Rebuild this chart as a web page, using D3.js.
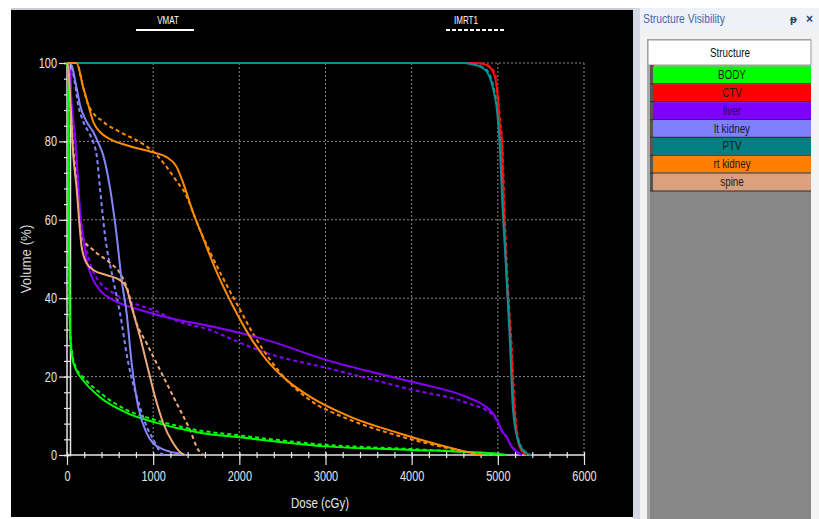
<!DOCTYPE html>
<html>
<head>
<meta charset="utf-8">
<script src="https://cdn.jsdelivr.net/npm/d3@7"></script>
<style>
  body { margin: 0; background: #fff; }
  svg { display: block; }
  text { font-family: "Liberation Sans", Arial, sans-serif; }
</style>
</head>
<body>
<div id="chart"></div>
<script>
// DVH comparison VMAT vs IMRT1

const structures = ["BODY", "CTV", "liver", "lt kidney", "PTV", "rt kidney", "spine"];
const structColors = ["#00ff00", "#ff0000", "#8000ff", "#8080ff", "#008080", "#ff8000", "#dba07e"];
const curveColors = ["#00ff00", "#ff1010", "#8a00ff", "#8585ff", "#009494", "#ff8c00", "#f0a878"];

const xTicks = [0, 1000, 2000, 3000, 4000, 5000, 6000];
const yTicks = [0, 20, 40, 60, 80, 100];

// [dose cGy, volume %]
const bodyVMAT = [[0,100],[15,97],[20,70],[25,50],[35,32],[60,25],[100,22],[190,19],[380,14.8],[700,10.7],[1040,8.2],[1540,5.7],[2000,4.5],[3000,2.2],[4000,1.3],[4600,0.8],[5000,0.3],[5100,0]];
const bodyIMRT = [[0,100],[15,97],[20,70],[25,50],[35,33],[60,26],[100,22.5],[200,19.6],[400,15.6],[700,11.4],[1000,9.1],[1500,6.4],[2000,5],[3000,2.6],[4000,1.5],[4600,0.8],[4900,0.2],[5000,0]];

const ctvVMAT = [[0,100],[4700,100],[4830,99.8],[4900,99],[4960,97],[5000,91],[5020,85],[5045,80],[5070,63],[5100,46],[5150,29],[5190,12],[5230,4],[5280,1],[5340,0]];
const ctvIMRT = [[0,100],[4720,100],[4840,99.8],[4910,99],[4970,97],[5005,91],[5028,85],[5052,80],[5078,63],[5110,46],[5158,29],[5198,12],[5238,4],[5290,1],[5350,0]];

const liverVMAT = [[0,100],[25,99],[55,89],[93,81],[160,60],[190,55],[235,49],[305,44.6],[383,42],[540,39.5],[850,37],[1276,34.5],[1543,33.4],[2320,29.3],[3016,24.2],[4014,18.6],[4640,14.8],[4850,12.5],[4942,10.7],[5000,8.5],[5050,6],[5104,4.6],[5150,2.5],[5220,0.8],[5280,0]];
const liverIMRT = [[0,100],[25,99],[55,89],[93,81],[160,60],[230,52],[300,47],[383,44],[537,41.3],[800,38.5],[1000,37],[1300,34],[1660,31.9],[2000,28.7],[2320,26],[3016,22.2],[4014,16.6],[4640,13.3],[4942,10.2],[5000,8.3],[5050,6],[5104,4.4],[5150,2.5],[5220,0.8],[5280,0]];

const ltKidneyVMAT = [[0,100],[35,100],[112,93.6],[151,89.3],[228,85],[305,82.4],[360,79.8],[420,76.5],[500,68],[576,56],[634,44.6],[692,36.2],[750,23.5],[827,12.2],[924,5.6],[1000,3],[1079,1.8],[1200,0.8],[1320,0.3],[1380,0]];
const ltKidneyIMRT = [[0,100],[35,100],[90,95],[130,89.3],[190,85],[260,82],[305,79.8],[344,76.5],[383,68],[441,56],[537,44.6],[615,36.2],[711,23.5],[847,12.2],[930,7],[1000,4],[1060,1.5],[1100,0.3],[1150,0]];

const ptvVMAT = [[0,100],[4600,100],[4700,99.7],[4800,99],[4880,97.5],[4950,93],[4990,88],[5020,80],[5055,63],[5100,46],[5140,29],[5175,12],[5230,4],[5300,1],[5380,0]];
const ptvIMRT = [[0,100],[4620,100],[4720,99.7],[4820,99],[4895,97.5],[4960,93],[5000,88],[5030,80],[5063,63],[5108,46],[5148,29],[5183,12],[5238,4],[5310,1],[5390,0]];

const rtKidneyVMAT = [[0,100],[110,100],[190,93.6],[247,89.3],[305,85],[383,82.4],[500,80.6],[692,79],[1000,77.2],[1156,76],[1272,73.5],[1350,69.3],[1466,61.7],[1543,57.4],[1750,46],[1930,37.8],[2123,30.2],[2317,24.2],[2549,19.1],[2819,14.9],[3283,9.8],[3863,5.5],[4250,3],[4637,0.8],[4800,0]];
const rtKidneyIMRT = [[0,100],[110,100],[190,93.6],[247,89.3],[420,85],[615,82.4],[847,79.8],[1000,77.4],[1156,73.5],[1290,69.3],[1349,67.6],[1543,57.4],[1790,46],[1990,37.8],[2180,30.2],[2360,24.2],[2550,19.1],[2819,14],[3283,9],[3863,4.8],[4250,2.6],[4637,0.8],[4850,0]];

const spineVMAT = [[0,100],[15,99],[40,90],[73,76.5],[112,68],[150,57.4],[170,53.1],[228,48.9],[305,47.2],[460,45.9],[615,44.6],[692,42.5],[750,37.8],[847,30.2],[924,23.4],[1021,14.9],[1117,8.1],[1233,3],[1300,1],[1360,0]];
const spineIMRT = [[0,100],[15,99],[40,90],[73,78],[112,70],[150,60],[170,55.7],[305,52.3],[500,49],[615,46.4],[692,42.9],[808,33.6],[924,28.5],[1079,21.7],[1272,13.2],[1427,6.4],[1523,1.3],[1580,0]];

const vmatSeries = [bodyVMAT, ctvVMAT, liverVMAT, ltKidneyVMAT, ptvVMAT, rtKidneyVMAT, spineVMAT];
const imrtSeries = [bodyIMRT, ctvIMRT, liverIMRT, ltKidneyIMRT, ptvIMRT, rtKidneyIMRT, spineIMRT];

const width = 819, height = 519;
const plot = {left: 67, right: 584, top: 63, bottom: 455};

const svg = d3.select("#chart")
  .append("svg")
  .attr("width", width)
  .attr("height", height);

// background pieces
svg.append("rect").attr("x", 0).attr("y", 0).attr("width", width).attr("height", height).attr("fill", "#fff");
svg.append("rect").attr("x", 11).attr("y", 8).attr("width", 622).attr("height", 3).attr("fill", "#c8ccd4");
svg.append("rect").attr("x", 11).attr("y", 10).attr("width", 622).attr("height", 507).attr("fill", "#000");

const x = d3.scaleLinear().domain([0, 6000]).range([plot.left, plot.right]);
const y = d3.scaleLinear().domain([0, 100]).range([plot.bottom, plot.top]);

// narrow the text horizontally around its anchor point
function squish(sel, sx) {
  sel.attr("transform", function() {
    const tx = +d3.select(this).attr("data-x"), ty = +d3.select(this).attr("data-y");
    return `translate(${tx},${ty}) scale(${sx},1)`;
  });
}

// grid
const grid = svg.append("g").attr("stroke", "#8a8a8a").attr("stroke-dasharray", "2,2").attr("stroke-width", 1);
grid.selectAll(".gx").data(xTicks.slice(1)).join("line")
  .attr("x1", d => x(d)).attr("x2", d => x(d))
  .attr("y1", plot.top).attr("y2", plot.bottom);
grid.selectAll(".gy").data(yTicks.slice(1)).join("line")
  .attr("x1", plot.left).attr("x2", plot.right)
  .attr("y1", d => y(d)).attr("y2", d => y(d));

// axes
const axisColor = "#e6e6e6";
const xMinor = d3.range(0, 6001, 200);
const yMinor = d3.range(0, 101, 4);

const gxMinor = svg.append("g").attr("transform", `translate(0,${plot.bottom - 3})`)
  .call(d3.axisBottom(x).tickValues(xMinor).tickSize(6).tickFormat(""));
const gyMinor = svg.append("g").attr("transform", `translate(${plot.left + 3},0)`)
  .call(d3.axisLeft(y).tickValues(yMinor).tickSize(6).tickFormat(""));
const gx = svg.append("g").attr("transform", `translate(0,${plot.bottom - 2})`)
  .call(d3.axisBottom(x).tickValues(xTicks).tickSize(12).tickFormat(d3.format("d")));
const gy = svg.append("g").attr("transform", `translate(${plot.left},0)`)
  .call(d3.axisLeft(y).tickValues(yTicks).tickSize(8));

[gxMinor, gyMinor, gx, gy].forEach(g => {
  g.selectAll("path").attr("stroke", axisColor).attr("stroke-width", 1.5);
  g.selectAll("line").attr("stroke", axisColor).attr("stroke-width", 1.2);
});
gxMinor.select("path").remove();
gx.select("path").remove();
gy.select("path").attr("d", `M0,${plot.top}V${plot.bottom}`);
svg.append("line").attr("x1", plot.left).attr("x2", plot.right)
  .attr("y1", plot.bottom).attr("y2", plot.bottom)
  .attr("stroke", axisColor).attr("stroke-width", 1.5);

gx.selectAll("text").attr("fill", axisColor).attr("font-size", 14)
  .attr("y", null).attr("dy", "0.71em")
  .attr("data-x", 0).attr("data-y", 18)
  .call(squish, 0.78);
gy.selectAll("text").attr("fill", axisColor).attr("font-size", 14)
  .attr("x", null)
  .attr("data-x", -10).attr("data-y", 0)
  .call(squish, 0.78);

svg.append("text").attr("data-x", 320).attr("data-y", 508)
  .attr("text-anchor", "middle").attr("fill", axisColor).attr("font-size", 14)
  .text("Dose (cGy)").call(squish, 0.82);
svg.append("text")
  .attr("transform", "translate(31,259) rotate(-90) scale(0.95,1)")
  .attr("text-anchor", "middle").attr("fill", "#d8d8d8").attr("font-size", 14)
  .text("Volume (%)");

// curves
const line = d3.line().x(d => x(d[0])).y(d => y(d[1])).curve(d3.curveMonotoneX);
const curves = svg.append("g").attr("fill", "none");
imrtSeries.forEach((s, i) => {
  curves.append("path").datum(s).attr("d", line)
    .attr("stroke", curveColors[i]).attr("stroke-width", 2)
    .attr("stroke-dasharray", "4,3");
});
vmatSeries.forEach((s, i) => {
  curves.append("path").datum(s).attr("d", line)
    .attr("stroke", curveColors[i]).attr("stroke-width", 2);
});

// top legend
svg.append("text").attr("data-x", 168).attr("data-y", 24).attr("text-anchor", "middle")
  .attr("fill", "#fff").attr("font-size", 10).text("VMAT").call(squish, 0.8);
svg.append("line").attr("x1", 136).attr("x2", 194).attr("y1", 30).attr("y2", 30)
  .attr("stroke", "#fff").attr("stroke-width", 2);
svg.append("text").attr("data-x", 466).attr("data-y", 24).attr("text-anchor", "middle")
  .attr("fill", "#fff").attr("font-size", 10).text("IMRT1").call(squish, 0.8);
svg.append("line").attr("x1", 446).attr("x2", 505).attr("y1", 30).attr("y2", 30)
  .attr("stroke", "#fff").attr("stroke-width", 2).attr("stroke-dasharray", "4,2");

// structure visibility panel
svg.append("rect").attr("x", 633).attr("y", 8).attr("width", 7).attr("height", 511).attr("fill", "#d3d9e6");
svg.append("rect").attr("x", 640).attr("y", 8).attr("width", 179).attr("height", 22).attr("fill", "#eef1f7");
svg.append("rect").attr("x", 640).attr("y", 30).attr("width", 179).attr("height", 489).attr("fill", "#f2f2f2");
svg.append("text").attr("data-x", 643).attr("data-y", 23).attr("fill", "#4469a8").attr("font-size", 12)
  .text("Structure Visibility").call(squish, 0.86);
svg.append("text").attr("x", 790).attr("y", 23).attr("fill", "#2a3f66").attr("font-size", 11).attr("font-weight", "bold").text("ᵽ");
svg.append("text").attr("x", 806).attr("y", 23).attr("fill", "#2a3f66").attr("font-size", 12).attr("font-weight", "bold").text("×");

svg.append("rect").attr("x", 647).attr("y", 39).attr("width", 172).attr("height", 480).attr("fill", "#a8a8a8");
svg.append("rect").attr("x", 650).attr("y", 191).attr("width", 161).attr("height", 328).attr("fill", "#878787");
svg.append("rect").attr("x", 811).attr("y", 39).attr("width", 8).attr("height", 480).attr("fill", "#f4f4f4");
svg.append("rect").attr("x", 648).attr("y", 40).attr("width", 163).attr("height", 25).attr("fill", "#fff")
  .attr("stroke", "#9a9a9a").attr("stroke-width", 1);
svg.append("text").attr("data-x", 730).attr("data-y", 57).attr("text-anchor", "middle")
  .attr("fill", "#111").attr("font-size", 12).text("Structure").call(squish, 0.82);

const rowY = d3.scaleBand().domain(structures).range([66, 191]).paddingInner(0);
svg.append("rect").attr("x", 650).attr("y", 65).attr("width", 4).attr("height", 126).attr("fill", "#555");
const rows = svg.append("g").selectAll("g").data(structures).join("g");
rows.append("rect")
  .attr("x", 653).attr("y", d => rowY(d) + 0.5)
  .attr("width", 158).attr("height", rowY.bandwidth() - 1)
  .attr("fill", (d, i) => structColors[i]);
rows.append("line")
  .attr("x1", 650).attr("x2", 811)
  .attr("y1", d => rowY(d) + rowY.bandwidth()).attr("y2", d => rowY(d) + rowY.bandwidth())
  .attr("stroke", "#333").attr("stroke-width", 1.2);
rows.append("text")
  .attr("data-x", 732).attr("data-y", d => rowY(d) + rowY.bandwidth() / 2 + 4)
  .attr("text-anchor", "middle").attr("font-size", 12)
  .attr("fill", (d, i) => i === 2 ? "#2a0060" : "#1a1a1a")
  .text(d => d).call(squish, 0.82);
</script>
</body>
</html>
